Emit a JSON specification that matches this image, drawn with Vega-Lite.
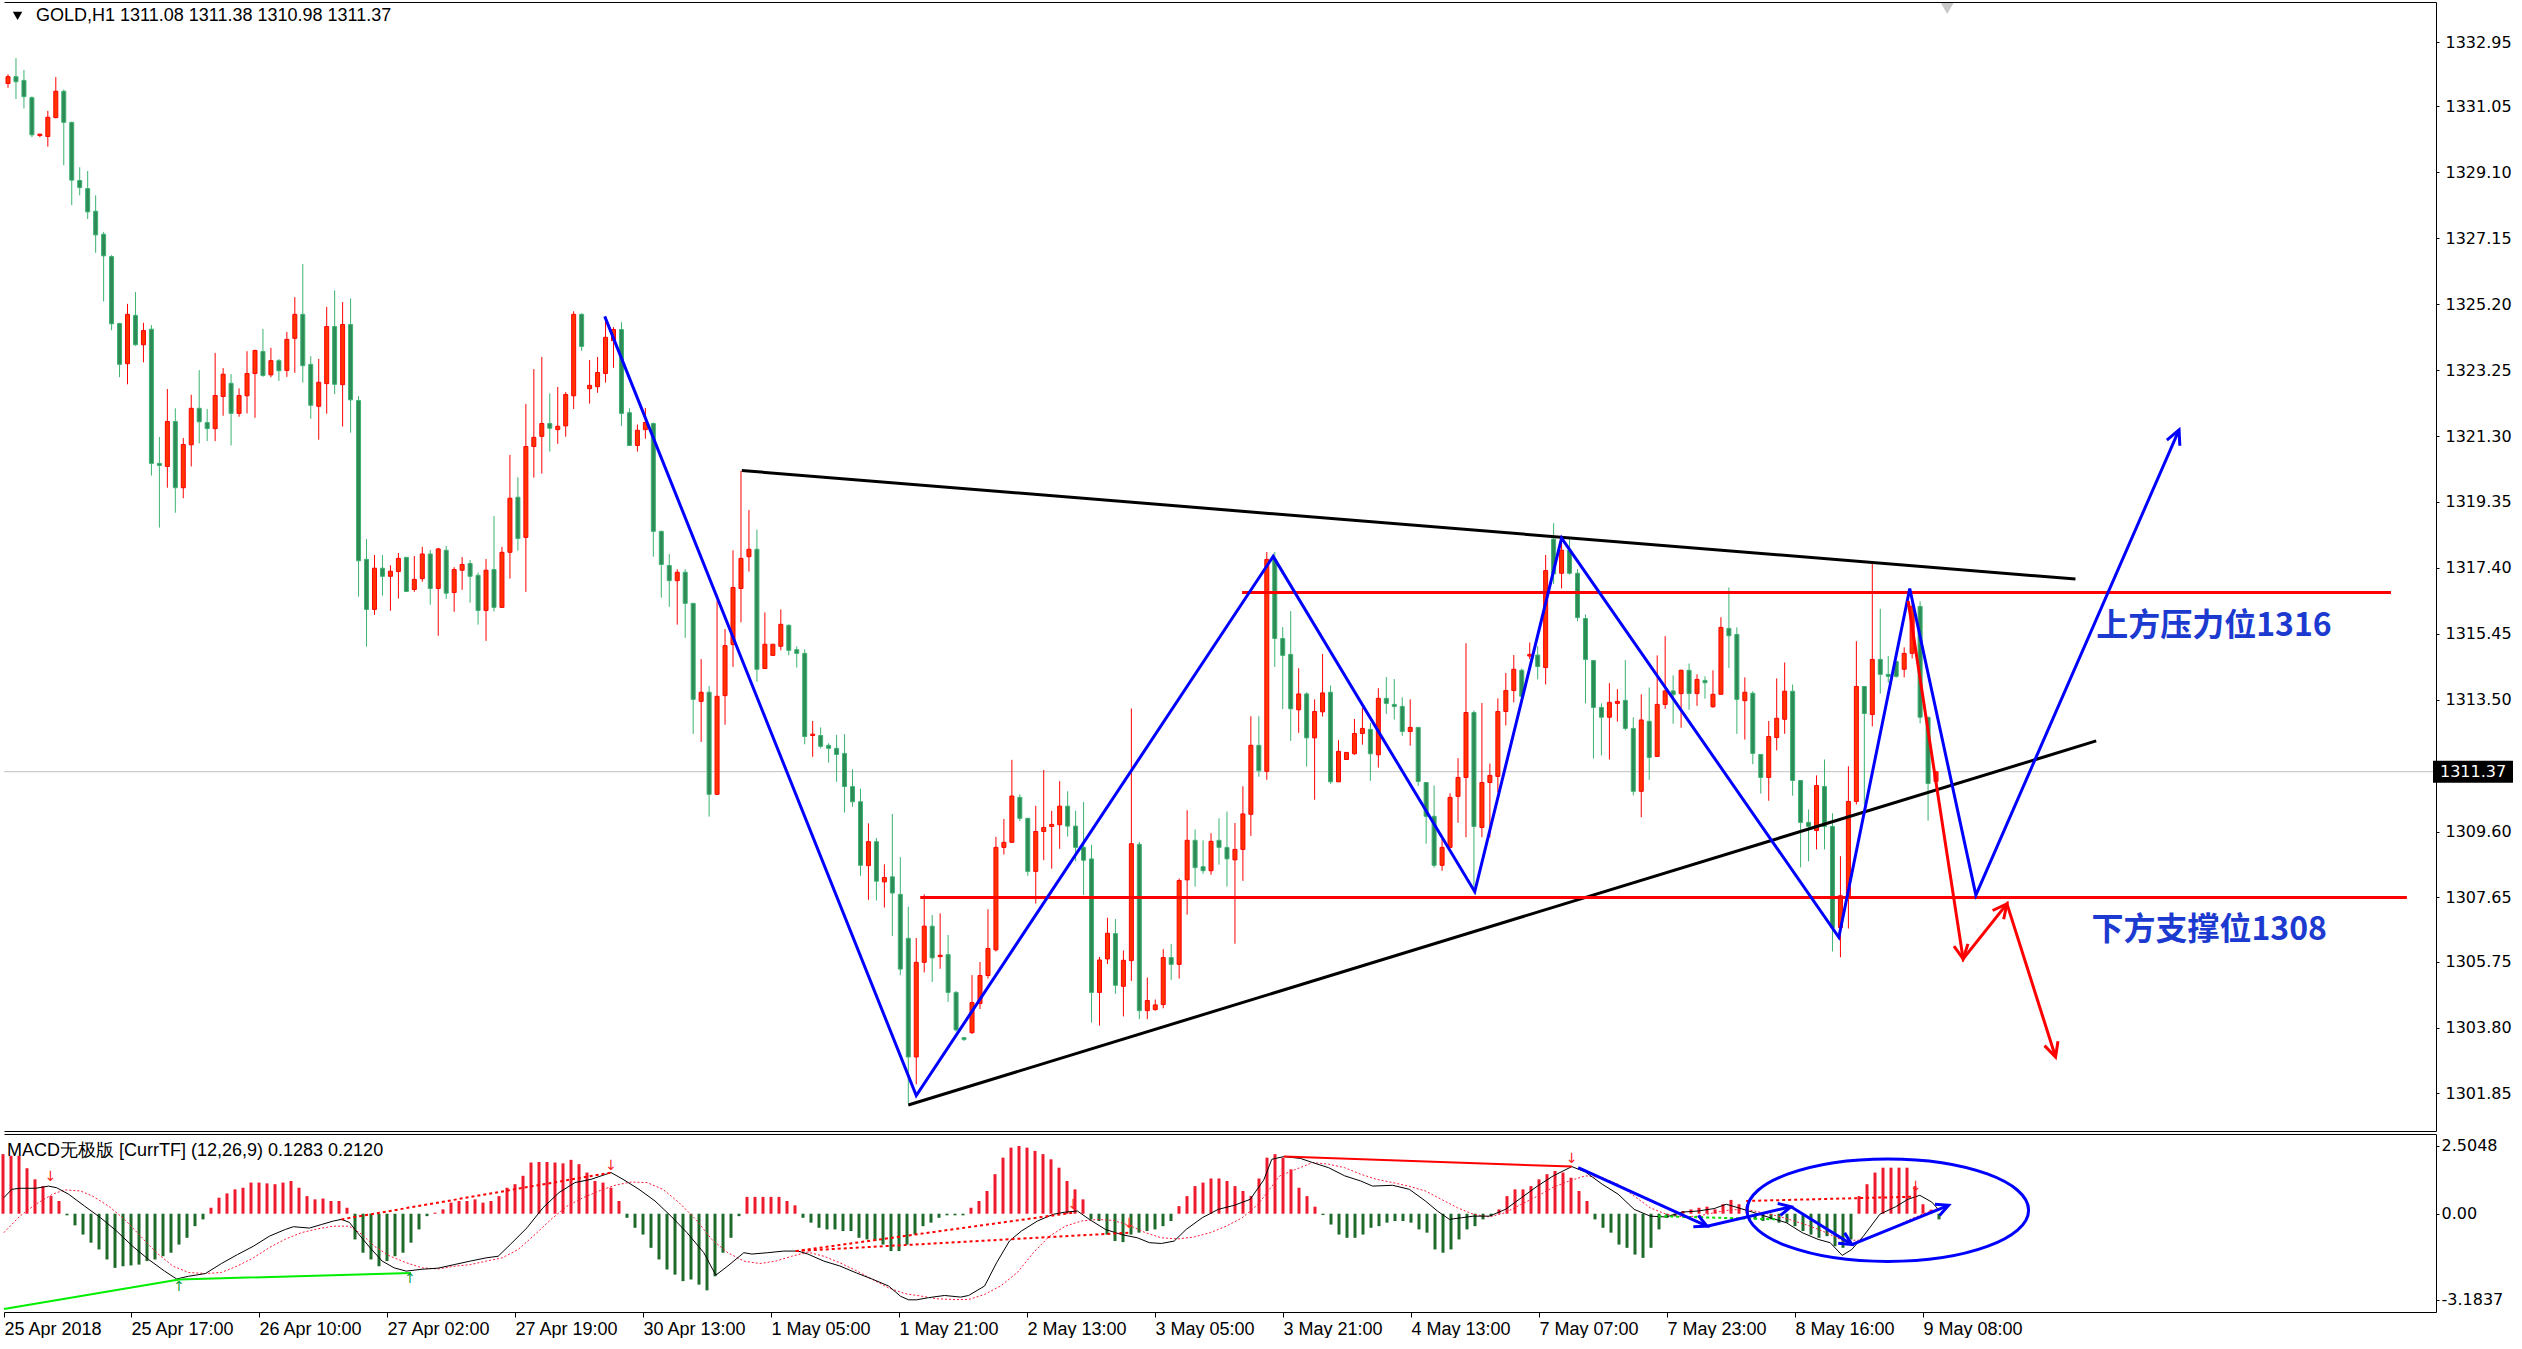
{
"$schema": "https://vega.github.io/schema/vega-lite/v6.json",
"background": "white",
"padding": {"left": 0, "top": 2, "right": 0, "bottom": 0},
"spacing": 3,
"config": {"view": {"stroke": null}, "axis": {"grid": false}, "font": "Liberation Sans"},
"datasets": {
"candles": [
{"i":0,"o":1331.73,"h":1332.0,"l":1331.6,"c":1331.93},
{"i":1,"o":1331.93,"h":1332.48,"l":1331.27,"c":1331.78},
{"i":2,"o":1331.82,"h":1332.13,"l":1330.99,"c":1331.34},
{"i":3,"o":1331.31,"h":1331.35,"l":1330.14,"c":1330.21},
{"i":4,"o":1330.19,"h":1330.24,"l":1330.14,"c":1330.23},
{"i":5,"o":1330.16,"h":1330.92,"l":1329.86,"c":1330.73},
{"i":6,"o":1330.72,"h":1331.92,"l":1330.7,"c":1331.5},
{"i":7,"o":1331.5,"h":1331.55,"l":1329.31,"c":1330.58},
{"i":8,"o":1330.58,"h":1330.6,"l":1328.13,"c":1328.87},
{"i":9,"o":1328.86,"h":1329.25,"l":1328.42,"c":1328.65},
{"i":10,"o":1328.62,"h":1329.14,"l":1327.72,"c":1327.93},
{"i":11,"o":1327.95,"h":1328.42,"l":1326.72,"c":1327.25},
{"i":12,"o":1327.27,"h":1327.34,"l":1325.28,"c":1326.63},
{"i":13,"o":1326.61,"h":1326.65,"l":1324.43,"c":1324.62},
{"i":14,"o":1324.63,"h":1324.65,"l":1323.04,"c":1323.42},
{"i":15,"o":1323.44,"h":1325.21,"l":1322.83,"c":1324.9},
{"i":16,"o":1324.87,"h":1325.56,"l":1323.97,"c":1324.0},
{"i":17,"o":1324.0,"h":1324.65,"l":1323.48,"c":1324.42},
{"i":18,"o":1324.46,"h":1324.58,"l":1320.13,"c":1320.49},
{"i":19,"o":1320.49,"h":1321.27,"l":1318.59,"c":1320.43},
{"i":20,"o":1320.4,"h":1322.69,"l":1319.77,"c":1321.73},
{"i":21,"o":1321.73,"h":1322.12,"l":1319.03,"c":1319.77},
{"i":22,"o":1319.77,"h":1321.24,"l":1319.46,"c":1321.05},
{"i":23,"o":1321.04,"h":1322.52,"l":1320.4,"c":1322.12},
{"i":24,"o":1322.12,"h":1323.25,"l":1321.08,"c":1321.72},
{"i":25,"o":1321.7,"h":1322.1,"l":1321.15,"c":1321.52},
{"i":26,"o":1321.52,"h":1323.76,"l":1321.15,"c":1322.5},
{"i":27,"o":1322.47,"h":1323.31,"l":1321.9,"c":1323.13},
{"i":28,"o":1322.86,"h":1323.13,"l":1321.02,"c":1321.97},
{"i":29,"o":1321.97,"h":1322.71,"l":1321.87,"c":1322.5},
{"i":30,"o":1322.49,"h":1323.81,"l":1321.97,"c":1323.15},
{"i":31,"o":1323.15,"h":1323.86,"l":1321.84,"c":1323.83},
{"i":32,"o":1323.8,"h":1324.47,"l":1323.05,"c":1323.09},
{"i":33,"o":1323.11,"h":1323.91,"l":1323.04,"c":1323.53},
{"i":34,"o":1323.53,"h":1323.58,"l":1322.93,"c":1323.23},
{"i":35,"o":1323.24,"h":1324.38,"l":1323.05,"c":1324.16},
{"i":36,"o":1324.19,"h":1325.41,"l":1323.17,"c":1324.9},
{"i":37,"o":1324.9,"h":1326.39,"l":1322.88,"c":1323.38},
{"i":38,"o":1323.42,"h":1323.66,"l":1321.81,"c":1322.21},
{"i":39,"o":1322.18,"h":1323.58,"l":1321.19,"c":1322.89},
{"i":40,"o":1322.85,"h":1325.12,"l":1321.96,"c":1324.54},
{"i":41,"o":1324.54,"h":1325.61,"l":1322.54,"c":1322.83},
{"i":42,"o":1322.82,"h":1325.26,"l":1321.58,"c":1324.6},
{"i":43,"o":1324.6,"h":1325.37,"l":1321.4,"c":1322.37},
{"i":44,"o":1322.35,"h":1322.48,"l":1316.55,"c":1317.61},
{"i":45,"o":1317.65,"h":1318.25,"l":1315.07,"c":1316.17},
{"i":46,"o":1316.17,"h":1317.78,"l":1316.01,"c":1317.39},
{"i":47,"o":1317.39,"h":1317.78,"l":1316.58,"c":1317.15},
{"i":48,"o":1317.15,"h":1317.48,"l":1316.13,"c":1317.3},
{"i":49,"o":1317.29,"h":1317.84,"l":1316.49,"c":1317.68},
{"i":50,"o":1317.71,"h":1317.71,"l":1316.7,"c":1316.7},
{"i":51,"o":1316.76,"h":1317.75,"l":1316.69,"c":1317.06},
{"i":52,"o":1317.08,"h":1318.02,"l":1316.99,"c":1317.81},
{"i":53,"o":1317.81,"h":1317.93,"l":1316.31,"c":1316.79},
{"i":54,"o":1316.79,"h":1317.99,"l":1315.39,"c":1317.96},
{"i":55,"o":1317.92,"h":1318.05,"l":1316.48,"c":1316.65},
{"i":56,"o":1316.67,"h":1317.42,"l":1316.1,"c":1317.35},
{"i":57,"o":1317.33,"h":1317.72,"l":1316.75,"c":1317.5},
{"i":58,"o":1317.53,"h":1317.63,"l":1316.37,"c":1317.15},
{"i":59,"o":1317.18,"h":1317.26,"l":1315.72,"c":1316.14},
{"i":60,"o":1316.14,"h":1317.66,"l":1315.24,"c":1317.33},
{"i":61,"o":1317.35,"h":1318.93,"l":1316.11,"c":1316.23},
{"i":62,"o":1316.23,"h":1318.02,"l":1316.23,"c":1317.86},
{"i":63,"o":1317.86,"h":1320.74,"l":1317.08,"c":1319.46},
{"i":64,"o":1319.49,"h":1320.08,"l":1317.91,"c":1318.27},
{"i":65,"o":1318.3,"h":1322.25,"l":1316.69,"c":1320.99},
{"i":66,"o":1320.99,"h":1323.28,"l":1320.07,"c":1321.26},
{"i":67,"o":1321.29,"h":1323.64,"l":1320.19,"c":1321.67},
{"i":68,"o":1321.67,"h":1322.56,"l":1320.84,"c":1321.53},
{"i":69,"o":1321.49,"h":1322.75,"l":1321.07,"c":1321.59},
{"i":70,"o":1321.6,"h":1322.6,"l":1321.28,"c":1322.53},
{"i":71,"o":1322.49,"h":1324.99,"l":1322.1,"c":1324.9},
{"i":72,"o":1324.9,"h":1324.93,"l":1323.82,"c":1323.95},
{"i":73,"o":1322.7,"h":1323.55,"l":1322.26,"c":1322.8},
{"i":74,"o":1322.76,"h":1323.64,"l":1322.58,"c":1323.18},
{"i":75,"o":1323.15,"h":1324.7,"l":1322.88,"c":1324.22},
{"i":76,"o":1324.12,"h":1324.52,"l":1323.32,"c":1324.45},
{"i":77,"o":1324.45,"h":1324.67,"l":1321.6,"c":1321.97},
{"i":78,"o":1321.99,"h":1322.12,"l":1321.02,"c":1321.02},
{"i":79,"o":1321.02,"h":1321.64,"l":1320.84,"c":1321.47},
{"i":80,"o":1321.49,"h":1322.13,"l":1321.22,"c":1321.7},
{"i":81,"o":1321.67,"h":1321.7,"l":1317.73,"c":1318.48},
{"i":82,"o":1318.48,"h":1318.5,"l":1316.52,"c":1317.5},
{"i":83,"o":1317.47,"h":1317.81,"l":1316.25,"c":1317.02},
{"i":84,"o":1317.02,"h":1317.36,"l":1315.72,"c":1317.27},
{"i":85,"o":1317.27,"h":1317.36,"l":1315.33,"c":1316.35},
{"i":86,"o":1316.35,"h":1316.35,"l":1312.49,"c":1313.51},
{"i":87,"o":1313.45,"h":1314.7,"l":1312.25,"c":1313.72},
{"i":88,"o":1313.72,"h":1313.9,"l":1310.04,"c":1310.7},
{"i":89,"o":1310.7,"h":1316.43,"l":1310.7,"c":1313.6},
{"i":90,"o":1313.62,"h":1315.59,"l":1312.76,"c":1315.1},
{"i":91,"o":1315.13,"h":1317.92,"l":1314.47,"c":1316.82},
{"i":92,"o":1316.79,"h":1320.27,"l":1315.79,"c":1317.68},
{"i":93,"o":1317.73,"h":1319.11,"l":1317.29,"c":1317.95},
{"i":94,"o":1317.95,"h":1318.53,"l":1314.03,"c":1314.4},
{"i":95,"o":1314.42,"h":1316.08,"l":1314.42,"c":1315.14},
{"i":96,"o":1314.81,"h":1315.14,"l":1314.81,"c":1315.14},
{"i":97,"o":1315.08,"h":1316.17,"l":1314.96,"c":1315.73},
{"i":98,"o":1315.7,"h":1315.73,"l":1314.81,"c":1314.96},
{"i":99,"o":1314.98,"h":1315.08,"l":1314.45,"c":1314.87},
{"i":100,"o":1314.87,"h":1314.99,"l":1312.18,"c":1312.41},
{"i":101,"o":1312.44,"h":1312.87,"l":1311.81,"c":1312.48},
{"i":102,"o":1312.44,"h":1312.68,"l":1312.06,"c":1312.12},
{"i":103,"o":1312.15,"h":1312.21,"l":1311.64,"c":1312.06},
{"i":104,"o":1312.06,"h":1312.46,"l":1311.07,"c":1311.88},
{"i":105,"o":1311.91,"h":1312.48,"l":1310.16,"c":1310.93},
{"i":106,"o":1310.93,"h":1311.44,"l":1310.33,"c":1310.48},
{"i":107,"o":1310.48,"h":1310.87,"l":1308.29,"c":1308.6},
{"i":108,"o":1308.59,"h":1309.84,"l":1307.58,"c":1309.3},
{"i":109,"o":1309.3,"h":1309.41,"l":1307.56,"c":1308.13},
{"i":110,"o":1308.11,"h":1308.63,"l":1307.35,"c":1308.24},
{"i":111,"o":1308.26,"h":1310.12,"l":1306.51,"c":1307.78},
{"i":112,"o":1307.74,"h":1308.84,"l":1305.35,"c":1305.53},
{"i":113,"o":1306.44,"h":1307.38,"l":1301.57,"c":1302.93},
{"i":114,"o":1302.93,"h":1306.45,"l":1302.12,"c":1305.73},
{"i":115,"o":1305.73,"h":1307.74,"l":1305.43,"c":1306.8},
{"i":116,"o":1306.8,"h":1307.13,"l":1305.15,"c":1305.86},
{"i":117,"o":1305.9,"h":1307.18,"l":1305.54,"c":1305.94},
{"i":118,"o":1305.96,"h":1306.54,"l":1304.56,"c":1304.84},
{"i":119,"o":1304.84,"h":1304.88,"l":1303.68,"c":1303.73},
{"i":120,"o":1303.5,"h":1303.52,"l":1303.4,"c":1303.45},
{"i":121,"o":1303.65,"h":1305.35,"l":1303.61,"c":1304.54},
{"i":122,"o":1304.51,"h":1305.74,"l":1304.35,"c":1305.34},
{"i":123,"o":1305.34,"h":1307.3,"l":1305.25,"c":1306.14},
{"i":124,"o":1306.1,"h":1309.44,"l":1306.05,"c":1309.13},
{"i":125,"o":1309.13,"h":1309.97,"l":1308.92,"c":1309.28},
{"i":126,"o":1309.28,"h":1311.72,"l":1309.28,"c":1310.65},
{"i":127,"o":1310.61,"h":1310.7,"l":1309.91,"c":1309.99},
{"i":128,"o":1309.99,"h":1310.0,"l":1308.29,"c":1308.42},
{"i":129,"o":1308.42,"h":1310.36,"l":1307.47,"c":1309.6},
{"i":130,"o":1309.6,"h":1311.42,"l":1308.75,"c":1309.72},
{"i":131,"o":1309.75,"h":1310.21,"l":1308.5,"c":1309.81},
{"i":132,"o":1309.8,"h":1311.09,"l":1309.09,"c":1310.35},
{"i":133,"o":1310.35,"h":1310.79,"l":1309.45,"c":1309.76},
{"i":134,"o":1309.76,"h":1310.22,"l":1308.72,"c":1309.13},
{"i":135,"o":1309.13,"h":1310.47,"l":1307.72,"c":1308.75},
{"i":136,"o":1308.79,"h":1309.21,"l":1303.95,"c":1304.84},
{"i":137,"o":1304.84,"h":1305.89,"l":1303.86,"c":1305.8},
{"i":138,"o":1305.83,"h":1307.05,"l":1305.68,"c":1306.59},
{"i":139,"o":1306.58,"h":1307.01,"l":1304.8,"c":1305.05},
{"i":140,"o":1305.02,"h":1306.08,"l":1304.13,"c":1305.79},
{"i":141,"o":1305.78,"h":1313.24,"l":1305.18,"c":1309.24},
{"i":142,"o":1309.22,"h":1309.29,"l":1304.05,"c":1304.3},
{"i":143,"o":1304.3,"h":1305.28,"l":1304.05,"c":1304.6},
{"i":144,"o":1304.33,"h":1304.63,"l":1304.3,"c":1304.47},
{"i":145,"o":1304.48,"h":1306.12,"l":1304.37,"c":1305.87},
{"i":146,"o":1305.87,"h":1306.27,"l":1305.21,"c":1305.67},
{"i":147,"o":1305.67,"h":1308.21,"l":1305.25,"c":1308.15},
{"i":148,"o":1308.17,"h":1310.23,"l":1307.14,"c":1309.34},
{"i":149,"o":1309.34,"h":1309.66,"l":1307.97,"c":1308.53},
{"i":150,"o":1308.56,"h":1309.34,"l":1308.35,"c":1308.44},
{"i":151,"o":1308.44,"h":1309.55,"l":1308.32,"c":1309.31},
{"i":152,"o":1309.34,"h":1309.99,"l":1308.62,"c":1309.13},
{"i":153,"o":1309.13,"h":1310.19,"l":1307.97,"c":1308.79},
{"i":154,"o":1308.76,"h":1309.85,"l":1306.28,"c":1309.07},
{"i":155,"o":1309.07,"h":1310.94,"l":1308.14,"c":1310.12},
{"i":156,"o":1310.11,"h":1313.01,"l":1309.47,"c":1312.15},
{"i":157,"o":1312.15,"h":1313.01,"l":1311.22,"c":1311.4},
{"i":158,"o":1311.38,"h":1317.87,"l":1311.13,"c":1317.65},
{"i":159,"o":1317.65,"h":1317.87,"l":1314.47,"c":1315.31},
{"i":160,"o":1315.31,"h":1315.65,"l":1313.22,"c":1314.81},
{"i":161,"o":1314.84,"h":1316.12,"l":1312.28,"c":1313.23},
{"i":162,"o":1313.2,"h":1314.43,"l":1312.52,"c":1313.67},
{"i":163,"o":1313.67,"h":1313.72,"l":1311.52,"c":1312.37},
{"i":164,"o":1312.37,"h":1313.51,"l":1310.54,"c":1313.15},
{"i":165,"o":1313.14,"h":1314.85,"l":1313.0,"c":1313.7},
{"i":166,"o":1313.72,"h":1313.92,"l":1311.01,"c":1311.07},
{"i":167,"o":1311.07,"h":1312.3,"l":1311.07,"c":1311.97},
{"i":168,"o":1311.73,"h":1311.94,"l":1311.73,"c":1311.94},
{"i":169,"o":1311.9,"h":1312.93,"l":1311.87,"c":1312.5},
{"i":170,"o":1312.5,"h":1313.25,"l":1312.17,"c":1312.65},
{"i":171,"o":1312.62,"h":1312.81,"l":1311.1,"c":1311.9},
{"i":172,"o":1311.87,"h":1313.84,"l":1311.49,"c":1313.54},
{"i":173,"o":1313.54,"h":1314.17,"l":1313.08,"c":1313.39},
{"i":174,"o":1313.36,"h":1314.11,"l":1312.91,"c":1313.3},
{"i":175,"o":1313.3,"h":1313.57,"l":1312.43,"c":1312.56},
{"i":176,"o":1312.56,"h":1313.51,"l":1312.14,"c":1312.68},
{"i":177,"o":1312.68,"h":1312.68,"l":1310.95,"c":1311.08},
{"i":178,"o":1311.05,"h":1311.05,"l":1309.24,"c":1310.05},
{"i":179,"o":1310.05,"h":1310.96,"l":1308.53,"c":1308.6},
{"i":180,"o":1308.6,"h":1309.38,"l":1308.44,"c":1309.13},
{"i":181,"o":1309.13,"h":1310.73,"l":1309.13,"c":1310.61},
{"i":182,"o":1310.64,"h":1311.77,"l":1309.86,"c":1311.2},
{"i":183,"o":1311.2,"h":1315.17,"l":1309.43,"c":1313.12},
{"i":184,"o":1313.12,"h":1313.18,"l":1307.82,"c":1309.75},
{"i":185,"o":1309.72,"h":1313.4,"l":1309.43,"c":1311.05},
{"i":186,"o":1311.05,"h":1311.61,"l":1309.43,"c":1311.26},
{"i":187,"o":1311.23,"h":1313.54,"l":1310.76,"c":1313.15},
{"i":188,"o":1313.15,"h":1314.29,"l":1312.74,"c":1313.77},
{"i":189,"o":1313.77,"h":1314.82,"l":1313.42,"c":1314.4},
{"i":190,"o":1314.37,"h":1314.42,"l":1313.57,"c":1313.6},
{"i":191,"o":1314.79,"h":1315.19,"l":1314.7,"c":1314.84},
{"i":192,"o":1314.82,"h":1315.08,"l":1314.1,"c":1314.48},
{"i":193,"o":1314.45,"h":1317.78,"l":1313.95,"c":1317.32},
{"i":194,"o":1318.25,"h":1318.72,"l":1316.92,"c":1317.22},
{"i":195,"o":1317.24,"h":1318.15,"l":1316.79,"c":1317.92},
{"i":196,"o":1317.92,"h":1318.3,"l":1317.2,"c":1317.24},
{"i":197,"o":1317.24,"h":1317.36,"l":1315.82,"c":1315.93},
{"i":198,"o":1315.9,"h":1316.02,"l":1313.39,"c":1314.69},
{"i":199,"o":1314.66,"h":1314.66,"l":1311.76,"c":1313.27},
{"i":200,"o":1313.27,"h":1313.39,"l":1311.85,"c":1312.98},
{"i":201,"o":1312.98,"h":1313.99,"l":1311.73,"c":1313.42},
{"i":202,"o":1313.39,"h":1313.81,"l":1312.85,"c":1313.45},
{"i":203,"o":1313.48,"h":1314.67,"l":1312.59,"c":1312.65},
{"i":204,"o":1312.65,"h":1312.98,"l":1310.67,"c":1310.79},
{"i":205,"o":1310.79,"h":1313.66,"l":1310.02,"c":1312.9},
{"i":206,"o":1312.86,"h":1313.86,"l":1311.13,"c":1311.79},
{"i":207,"o":1311.82,"h":1314.81,"l":1311.82,"c":1313.36},
{"i":208,"o":1313.36,"h":1315.38,"l":1313.23,"c":1313.76},
{"i":209,"o":1313.76,"h":1314.22,"l":1312.79,"c":1313.65},
{"i":210,"o":1313.68,"h":1314.39,"l":1312.67,"c":1314.37},
{"i":211,"o":1314.37,"h":1314.57,"l":1313.2,"c":1313.68},
{"i":212,"o":1313.68,"h":1314.25,"l":1313.32,"c":1314.1},
{"i":213,"o":1314.07,"h":1314.19,"l":1313.53,"c":1314.0},
{"i":214,"o":1313.29,"h":1314.37,"l":1313.26,"c":1313.66},
{"i":215,"o":1313.66,"h":1315.94,"l":1313.66,"c":1315.64},
{"i":216,"o":1315.61,"h":1316.82,"l":1314.44,"c":1315.39},
{"i":217,"o":1315.43,"h":1315.64,"l":1312.49,"c":1313.51},
{"i":218,"o":1313.47,"h":1314.16,"l":1312.32,"c":1313.72},
{"i":219,"o":1313.69,"h":1313.75,"l":1311.59,"c":1311.91},
{"i":220,"o":1311.88,"h":1311.88,"l":1310.72,"c":1311.2},
{"i":221,"o":1311.2,"h":1312.87,"l":1310.51,"c":1312.41},
{"i":222,"o":1312.38,"h":1314.13,"l":1312.0,"c":1312.95},
{"i":223,"o":1312.92,"h":1314.6,"l":1312.49,"c":1313.75},
{"i":224,"o":1313.75,"h":1313.95,"l":1310.66,"c":1311.11},
{"i":225,"o":1311.11,"h":1311.11,"l":1308.54,"c":1309.87},
{"i":226,"o":1309.87,"h":1310.25,"l":1308.72,"c":1309.75},
{"i":227,"o":1309.63,"h":1311.26,"l":1309.07,"c":1310.96},
{"i":228,"o":1310.93,"h":1311.73,"l":1309.07,"c":1309.75},
{"i":229,"o":1309.75,"h":1310.14,"l":1306.05,"c":1306.76},
{"i":230,"o":1306.76,"h":1308.87,"l":1305.88,"c":1307.7},
{"i":231,"o":1307.7,"h":1311.53,"l":1306.73,"c":1310.49},
{"i":232,"o":1310.49,"h":1315.23,"l":1310.4,"c":1313.89},
{"i":233,"o":1313.89,"h":1313.89,"l":1310.4,"c":1313.09},
{"i":234,"o":1313.06,"h":1317.56,"l":1312.71,"c":1314.69},
{"i":235,"o":1314.69,"h":1316.19,"l":1313.68,"c":1314.25},
{"i":236,"o":1314.25,"h":1314.79,"l":1314.0,"c":1314.19},
{"i":237,"o":1314.63,"h":1314.65,"l":1314.15,"c":1314.19},
{"i":238,"o":1314.4,"h":1315.05,"l":1314.16,"c":1314.87},
{"i":239,"o":1314.87,"h":1316.56,"l":1314.72,"c":1316.26},
{"i":240,"o":1316.26,"h":1316.41,"l":1312.8,"c":1312.98},
{"i":241,"o":1312.98,"h":1312.98,"l":1309.92,"c":1311.02},
{"i":242,"o":1311.08,"h":1311.38,"l":1310.98,"c":1311.37}
],
"hist": [
{"i":0,"v":2.2},{"i":1,"v":2.14},{"i":2,"v":2.14},{"i":3,"v":1.68},{"i":4,"v":1.27},{"i":5,"v":1.02},{"i":6,"v":0.65},{"i":7,"v":0.47},
{"i":8,"v":-0.06},{"i":9,"v":-0.43},{"i":10,"v":-0.77},{"i":11,"v":-1.07},{"i":12,"v":-1.32},{"i":13,"v":-1.69},{"i":14,"v":-2.0},{"i":15,"v":-1.94},{"i":16,"v":-1.91},{"i":17,"v":-1.88},{"i":18,"v":-1.75},{"i":19,"v":-1.69},{"i":20,"v":-1.57},{"i":21,"v":-1.44},{"i":22,"v":-1.14},{"i":23,"v":-0.89},{"i":24,"v":-0.46},{"i":25,"v":-0.21},
{"i":26,"v":0.22},{"i":27,"v":0.59},{"i":28,"v":0.75},{"i":29,"v":0.9},{"i":30,"v":0.96},{"i":31,"v":1.15},{"i":32,"v":1.15},{"i":33,"v":1.12},{"i":34,"v":1.09},{"i":35,"v":1.15},{"i":36,"v":1.21},{"i":37,"v":0.96},{"i":38,"v":0.65},{"i":39,"v":0.53},{"i":40,"v":0.56},{"i":41,"v":0.47},{"i":42,"v":0.47},{"i":43,"v":0.22},
{"i":44,"v":-0.95},{"i":45,"v":-1.44},{"i":46,"v":-1.69},{"i":47,"v":-1.94},{"i":48,"v":-1.75},{"i":49,"v":-1.57},{"i":50,"v":-1.44},{"i":51,"v":-1.07},{"i":52,"v":-0.58},{"i":53,"v":-0.09},
{"i":54,"v":0.04},{"i":55,"v":0.16},{"i":56,"v":0.41},{"i":57,"v":0.47},{"i":58,"v":0.47},{"i":59,"v":0.53},{"i":60,"v":0.41},{"i":61,"v":0.47},{"i":62,"v":0.65},{"i":63,"v":0.96},{"i":64,"v":1.09},{"i":65,"v":1.4},{"i":66,"v":1.89},{"i":67,"v":1.91},{"i":68,"v":1.91},{"i":69,"v":1.89},{"i":70,"v":1.86},{"i":71,"v":1.99},{"i":72,"v":1.83},{"i":73,"v":1.52},{"i":74,"v":1.21},{"i":75,"v":1.15},{"i":76,"v":0.96},{"i":77,"v":0.47},
{"i":78,"v":-0.15},{"i":79,"v":-0.52},{"i":80,"v":-0.77},{"i":81,"v":-1.26},{"i":82,"v":-1.69},{"i":83,"v":-2.06},{"i":84,"v":-2.25},{"i":85,"v":-2.49},{"i":86,"v":-2.43},{"i":87,"v":-2.62},{"i":88,"v":-2.83},{"i":89,"v":-2.31},{"i":90,"v":-1.44},{"i":91,"v":-0.89},{"i":92,"v":-0.09},
{"i":93,"v":0.62},{"i":94,"v":0.62},{"i":95,"v":0.62},{"i":96,"v":0.62},{"i":97,"v":0.62},{"i":98,"v":0.47},{"i":99,"v":0.31},
{"i":100,"v":-0.15},{"i":101,"v":-0.33},{"i":102,"v":-0.52},{"i":103,"v":-0.58},{"i":104,"v":-0.58},{"i":105,"v":-0.64},{"i":106,"v":-0.64},{"i":107,"v":-0.89},{"i":108,"v":-0.95},{"i":109,"v":-1.01},{"i":110,"v":-1.14},{"i":111,"v":-1.38},{"i":112,"v":-1.38},{"i":113,"v":-1.14},{"i":114,"v":-0.77},{"i":115,"v":-0.46},{"i":116,"v":-0.33},{"i":117,"v":-0.15},{"i":118,"v":-0.06},{"i":119,"v":-0.06},{"i":120,"v":-0.06},
{"i":121,"v":0.22},{"i":122,"v":0.47},{"i":123,"v":0.84},{"i":124,"v":1.46},{"i":125,"v":2.07},{"i":126,"v":2.44},{"i":127,"v":2.5},{"i":128,"v":2.44},{"i":129,"v":2.32},{"i":130,"v":2.2},{"i":131,"v":2.01},{"i":132,"v":1.7},{"i":133,"v":1.21},{"i":134,"v":0.9},{"i":135,"v":0.53},
{"i":136,"v":-0.21},{"i":137,"v":-0.27},{"i":138,"v":-0.77},{"i":139,"v":-1.01},{"i":140,"v":-1.05},{"i":141,"v":-0.77},{"i":142,"v":-0.7},{"i":143,"v":-0.64},{"i":144,"v":-0.58},{"i":145,"v":-0.46},{"i":146,"v":-0.27},
{"i":147,"v":0.28},{"i":148,"v":0.65},{"i":149,"v":1.02},{"i":150,"v":1.15},{"i":151,"v":1.3},{"i":152,"v":1.3},{"i":153,"v":1.21},{"i":154,"v":1.02},{"i":155,"v":0.84},{"i":156,"v":0.65},{"i":157,"v":1.3},
{"i":158,"v":2.07},{"i":159,"v":2.2},{"i":160,"v":2.07},{"i":161,"v":1.64},{"i":162,"v":0.96},{"i":163,"v":0.65},{"i":164,"v":0.26},{"i":165,"v":-0.05},
{"i":166,"v":-0.4},{"i":167,"v":-0.77},{"i":168,"v":-0.89},{"i":169,"v":-0.89},{"i":170,"v":-0.77},{"i":171,"v":-0.52},{"i":172,"v":-0.46},{"i":173,"v":-0.33},{"i":174,"v":-0.27},{"i":175,"v":-0.27},{"i":176,"v":-0.33},{"i":177,"v":-0.58},{"i":178,"v":-0.7},{"i":179,"v":-1.32},{"i":180,"v":-1.44},{"i":181,"v":-1.32},{"i":182,"v":-0.95},{"i":183,"v":-0.58},{"i":184,"v":-0.46},{"i":185,"v":-0.21},{"i":186,"v":-0.09},
{"i":187,"v":0.16},{"i":188,"v":0.65},{"i":189,"v":0.9},{"i":190,"v":0.9},{"i":191,"v":1.02},{"i":192,"v":1.27},{"i":193,"v":1.46},{"i":194,"v":1.58},{"i":195,"v":1.52},{"i":196,"v":1.33},{"i":197,"v":0.84},{"i":198,"v":0.47},
{"i":199,"v":-0.21},{"i":200,"v":-0.52},{"i":201,"v":-0.7},{"i":202,"v":-1.14},{"i":203,"v":-1.26},{"i":204,"v":-1.51},{"i":205,"v":-1.63},{"i":206,"v":-1.26},{"i":207,"v":-0.58},{"i":208,"v":-0.15},{"i":209,"v":-0.1},
{"i":210,"v":0.1},{"i":211,"v":0.16},{"i":212,"v":0.22},{"i":213,"v":0.26},{"i":214,"v":0.16},{"i":215,"v":0.35},{"i":216,"v":0.51},{"i":217,"v":0.35},{"i":218,"v":0.26},
{"i":219,"v":-0.21},{"i":220,"v":-0.27},{"i":221,"v":-0.21},{"i":222,"v":-0.33},{"i":223,"v":-0.33},{"i":224,"v":-0.46},{"i":225,"v":-0.64},{"i":226,"v":-0.77},{"i":227,"v":-0.89},{"i":228,"v":-0.83},{"i":229,"v":-1.2},{"i":230,"v":-1.26},{"i":231,"v":-0.95},
{"i":232,"v":0.65},{"i":233,"v":1.09},{"i":234,"v":1.52},{"i":235,"v":1.7},{"i":236,"v":1.7},{"i":237,"v":1.7},{"i":238,"v":1.7},{"i":239,"v":1.02},{"i":240,"v":0.35},{"i":241,"v":0.15},{"i":242,"v":-0.21}
],
"dif": [
{"i":0.1,"v":0.59},{"i":1.1,"v":0.9},{"i":2.1,"v":0.94},{"i":4.1,"v":0.94},{"i":5.7,"v":1.02},{"i":6.7,"v":0.96},{"i":8.2,"v":0.72},{"i":10.2,"v":0.28},{"i":12.2,"v":-0.15},{"i":14.2,"v":-0.64},{"i":16.2,"v":-1.2},{"i":18.2,"v":-1.69},{"i":20.2,"v":-2.12},{"i":21.7,"v":-2.41},{"i":23.2,"v":-2.31},{"i":25.3,"v":-2.21},{"i":27.3,"v":-1.84},{"i":29.3,"v":-1.51},{"i":31.3,"v":-1.2},{"i":33.3,"v":-0.83},{"i":35.3,"v":-0.58},{"i":36.3,"v":-0.48},{"i":38.3,"v":-0.53},{"i":39.8,"v":-0.4},{"i":41.3,"v":-0.27},{"i":42.3,"v":-0.21},{"i":43.3,"v":-0.32},{"i":44.3,"v":-0.7},{"i":45.9,"v":-1.26},{"i":47.4,"v":-1.75},{"i":48.9,"v":-2.0},{"i":50.4,"v":-2.12},{"i":52.4,"v":-2.05},{"i":54.4,"v":-2.01},{"i":56.4,"v":-1.88},{"i":58.4,"v":-1.75},{"i":60.4,"v":-1.63},{"i":61.9,"v":-1.57},{"i":63.4,"v":-1.14},{"i":65.5,"v":-0.52},{"i":67.5,"v":0.22},{"i":69.5,"v":0.78},{"i":71.5,"v":1.15},{"i":73.5,"v":1.27},{"i":76.0,"v":1.52},{"i":77.5,"v":1.27},{"i":79.5,"v":0.9},{"i":81.5,"v":0.47},{"i":83.5,"v":-0.09},{"i":85.5,"v":-0.7},{"i":87.6,"v":-1.44},{"i":89.1,"v":-2.27},{"i":90.6,"v":-1.93},{"i":92.6,"v":-1.44},{"i":93.6,"v":-1.49},{"i":95.6,"v":-1.44},{"i":97.6,"v":-1.38},{"i":99.4,"v":-1.38},{"i":100.6,"v":-1.49},{"i":102.6,"v":-1.75},{"i":104.6,"v":-1.93},{"i":106.7,"v":-2.19},{"i":108.7,"v":-2.42},{"i":110.7,"v":-2.67},{"i":112.2,"v":-3.05},{"i":113.2,"v":-3.18},{"i":114.2,"v":-3.18},{"i":115.7,"v":-3.1},{"i":117.7,"v":-3.02},{"i":119.7,"v":-3.08},{"i":120.7,"v":-3.02},{"i":122.7,"v":-2.67},{"i":124.2,"v":-1.81},{"i":125.8,"v":-1.01},{"i":127.3,"v":-0.64},{"i":129.3,"v":-0.27},{"i":131.3,"v":-0.02},{"i":132.8,"v":0.06},{"i":134.3,"v":0.1},{"i":135.8,"v":-0.21},{"i":137.8,"v":-0.58},{"i":139.8,"v":-0.77},{"i":141.8,"v":-0.89},{"i":143.3,"v":-1.07},{"i":144.8,"v":-1.1},{"i":146.4,"v":-1.01},{"i":147.9,"v":-0.58},{"i":149.9,"v":-0.15},{"i":151.9,"v":0.16},{"i":153.9,"v":0.31},{"i":155.9,"v":0.53},{"i":157.6,"v":1.25},{"i":158.6,"v":2.01},{"i":160.1,"v":2.11},{"i":162.2,"v":2.04},{"i":163.7,"v":1.89},{"i":165.7,"v":1.7},{"i":167.7,"v":1.4},{"i":169.7,"v":1.21},{"i":171.2,"v":1.02},{"i":173.7,"v":1.05},{"i":175.8,"v":0.9},{"i":177.8,"v":0.47},{"i":179.3,"v":0.1},{"i":180.8,"v":-0.21},{"i":182.3,"v":-0.15},{"i":183.8,"v":-0.09},{"i":185.8,"v":-0.09},{"i":187.8,"v":0.16},{"i":189.8,"v":0.59},{"i":191.8,"v":1.02},{"i":193.8,"v":1.4},{"i":196.1,"v":1.74},{"i":197.8,"v":1.54},{"i":199.9,"v":1.09},{"i":201.9,"v":0.72},{"i":203.9,"v":0.16},{"i":205.9,"v":-0.09},{"i":207.9,"v":-0.12},{"i":209.9,"v":0.06},{"i":211.9,"v":0.1},{"i":213.9,"v":0.19},{"i":215.4,"v":0.35},{"i":216.9,"v":0.22},{"i":218.9,"v":0.04},{"i":220.9,"v":-0.15},{"i":222.9,"v":-0.33},{"i":224.9,"v":-0.7},{"i":226.9,"v":-0.95},{"i":228.4,"v":-1.07},{"i":229.9,"v":-1.54},{"i":231.1,"v":-1.32},{"i":232.6,"v":-0.81},{"i":234.6,"v":-0.02},{"i":236.6,"v":0.26},{"i":238.1,"v":0.53},{"i":239.6,"v":0.68},{"i":241.1,"v":0.43},{"i":242,"v":0.13}
],
"dea": [
{"i":0.1,"v":-0.7},{"i":2.1,"v":-0.09},{"i":4.1,"v":0.35},{"i":6.2,"v":0.72},{"i":7.7,"v":0.88},{"i":9.7,"v":0.84},{"i":11.2,"v":0.65},{"i":13.2,"v":0.28},{"i":15.2,"v":-0.21},{"i":17.2,"v":-0.83},{"i":19.2,"v":-1.44},{"i":21.2,"v":-1.93},{"i":23.2,"v":-2.17},{"i":25.3,"v":-2.21},{"i":27.3,"v":-2.17},{"i":29.3,"v":-1.93},{"i":31.3,"v":-1.63},{"i":33.3,"v":-1.25},{"i":35.3,"v":-0.94},{"i":37.3,"v":-0.7},{"i":39.3,"v":-0.56},{"i":41.3,"v":-0.46},{"i":43.3,"v":-0.46},{"i":44.9,"v":-0.77},{"i":46.4,"v":-1.2},{"i":48.4,"v":-1.57},{"i":50.4,"v":-1.81},{"i":52.4,"v":-2.0},{"i":54.4,"v":-2.04},{"i":56.4,"v":-1.94},{"i":58.4,"v":-1.88},{"i":60.4,"v":-1.75},{"i":62.4,"v":-1.63},{"i":64.4,"v":-1.32},{"i":66.5,"v":-0.77},{"i":68.5,"v":-0.21},{"i":70.5,"v":0.28},{"i":72.5,"v":0.59},{"i":74.5,"v":0.84},{"i":76.5,"v":1.05},{"i":78.5,"v":1.17},{"i":80.5,"v":1.15},{"i":82.5,"v":0.9},{"i":84.5,"v":0.41},{"i":86.6,"v":-0.21},{"i":88.6,"v":-0.95},{"i":90.6,"v":-1.44},{"i":92.6,"v":-1.75},{"i":94.6,"v":-1.84},{"i":96.6,"v":-1.75},{"i":98.6,"v":-1.57},{"i":100.6,"v":-1.42},{"i":102.6,"v":-1.57},{"i":104.6,"v":-1.81},{"i":106.7,"v":-2.11},{"i":108.7,"v":-2.43},{"i":110.7,"v":-2.74},{"i":112.7,"v":-2.95},{"i":114.7,"v":-3.04},{"i":116.7,"v":-3.14},{"i":118.7,"v":-3.17},{"i":120.7,"v":-3.17},{"i":122.7,"v":-2.98},{"i":124.7,"v":-2.67},{"i":126.8,"v":-2.17},{"i":128.8,"v":-1.44},{"i":130.8,"v":-0.83},{"i":132.8,"v":-0.46},{"i":134.8,"v":-0.27},{"i":136.8,"v":-0.21},{"i":138.8,"v":-0.25},{"i":140.8,"v":-0.43},{"i":142.8,"v":-0.7},{"i":144.8,"v":-0.89},{"i":146.9,"v":-0.93},{"i":148.9,"v":-0.86},{"i":150.9,"v":-0.7},{"i":152.9,"v":-0.46},{"i":154.9,"v":-0.15},{"i":156.9,"v":0.35},{"i":159.6,"v":1.4},{"i":161.7,"v":1.65},{"i":163.7,"v":1.89},{"i":165.7,"v":1.83},{"i":167.7,"v":1.7},{"i":169.7,"v":1.46},{"i":171.7,"v":1.27},{"i":173.7,"v":1.15},{"i":175.7,"v":1.02},{"i":177.8,"v":0.84},{"i":179.8,"v":0.53},{"i":181.8,"v":0.22},{"i":183.8,"v":-0.02},{"i":185.8,"v":-0.12},{"i":187.8,"v":0.04},{"i":189.8,"v":0.35},{"i":191.8,"v":0.65},{"i":193.8,"v":0.98},{"i":195.8,"v":1.21},{"i":197.8,"v":1.4},{"i":199.9,"v":1.33},{"i":201.9,"v":1.09},{"i":203.9,"v":0.65},{"i":205.9,"v":0.22},{"i":207.9,"v":-0.02},{"i":209.9,"v":-0.11},{"i":211.9,"v":-0.09},{"i":213.9,"v":0.04},{"i":215.9,"v":0.14},{"i":217.9,"v":0.16},{"i":219.9,"v":0.04},{"i":221.9,"v":-0.09},{"i":223.9,"v":-0.27},{"i":225.9,"v":-0.46},{"i":227.9,"v":-0.7},{"i":229.9,"v":-0.98},{"i":231.9,"v":-0.98},{"i":233.9,"v":-0.83},{"i":235.9,"v":-0.58},{"i":237.9,"v":-0.27},{"i":239.9,"v":-0.02},{"i":242,"v":0.21}
],
"ann": [
{"id":"top","i":92.1,"p":1320.28},{"id":"top","i":259.5,"p":1317.07},
{"id":"bot","i":113.0,"p":1301.51},{"id":"bot","i":262.1,"p":1312.28},
{"id":"res","i":154.9,"p":1316.67},{"id":"res","i":299.1,"p":1316.67},
{"id":"sup","i":114.5,"p":1307.65},{"id":"sup","i":301.1,"p":1307.65},
{"id":"blue","i":74.9,"p":1324.84},{"id":"blue","i":114.0,"p":1301.79},{"id":"blue","i":158.8,"p":1317.74},{"id":"blue","i":184.1,"p":1307.82},{"id":"blue","i":195.0,"p":1318.28},{"id":"blue","i":229.8,"p":1306.47},{"id":"blue","i":238.7,"p":1316.79},{"id":"blue","i":247.0,"p":1307.72},{"id":"blue","i":272.5,"p":1321.48},
{"id":"red","i":238.5,"p":1316.42},{"id":"red","i":245.4,"p":1305.83},{"id":"red","i":250.9,"p":1307.46},{"id":"red","i":257.0,"p":1302.93}
],
"notes": [
{"t":"上方压力位1316","i":262.1,"p":1315.68},
{"t":"下方支撑位1308","i":261.5,"p":1306.7}
],
"mann": [
{"id":"g1","i":0.125,"v":-3.52},{"id":"g1","i":22,"v":-2.43},{"id":"g1","i":51,"v":-2.19},
{"id":"d1","i":42.3,"v":-0.21},{"id":"d1","i":76,"v":1.52},
{"id":"d2","i":99.1,"v":-1.38},{"id":"d2","i":133.8,"v":0.04},
{"id":"d3","i":99.1,"v":-1.38},{"id":"d3","i":140.8,"v":-0.7},
{"id":"d5","i":217.9,"v":0.47},{"id":"d5","i":239.1,"v":0.63},
{"id":"r1","i":160.1,"v":2.11},{"id":"r1","i":196.1,"v":1.74},
{"id":"gd","i":206.9,"v":-0.09},{"id":"gd","i":221.9,"v":-0.21},
{"id":"b1","i":196.9,"v":1.7},{"id":"b1","i":213.0,"v":-0.46},
{"id":"b2","i":213.0,"v":-0.46},{"id":"b2","i":223.5,"v":0.26},
{"id":"b3","i":223.5,"v":0.26},{"id":"b3","i":231.1,"v":-1.14},
{"id":"b4","i":231.1,"v":-1.14},{"id":"b4","i":243.2,"v":0.31}
],
"sig": [
{"t":"↓","i":5.95,"v":1.09},{"t":"↓","i":76,"v":1.52},{"t":"↓","i":133.8,"v":0.06},{"t":"↓","i":140.8,"v":-0.64},{"t":"↓","i":196.1,"v":1.77},{"t":"↓","i":239.1,"v":0.72},
{"t":"↑","i":22,"v":-2.43},{"t":"↑","i":50.9,"v":-2.17}
],
"ring": [{"i":235.6,"v":0.13}],
"one": [{}]
},
"vconcat": [
{
"width": 2432, "height": 1129,
"resolve": {"axis": {"x": "independent", "y": "independent"}},
"layer": [
{"data": {"name": "candles"}, "transform": [{"filter": "datum.i == 242"}],
 "mark": {"type": "rule", "color": "#c0c0c0", "strokeWidth": 1},
 "encoding": {"y": {"field": "c", "type": "quantitative", "scale": {"domain": [1300.74, 1334.14], "zero": false, "nice": false}, "axis": null}}},
{"data": {"name": "candles"},
 "mark": {"type": "rule", "strokeWidth": 1},
 "encoding": {
  "x": {"field": "i", "type": "quantitative", "scale": {"domain": [0.125, 304.125], "zero": false, "nice": false},
        "axis": {"orient": "bottom", "labels": false, "ticks": false, "domain": true, "domainColor": "#000", "domainWidth": 1, "title": null, "grid": false}},
  "y": {"field": "l", "type": "quantitative", "scale": {"domain": [1300.74, 1334.14], "zero": false, "nice": false},
        "axis": {"orient": "right", "values": [1332.95,1331.05,1329.10,1327.15,1325.20,1323.25,1321.30,1319.35,1317.40,1315.45,1313.50,1309.60,1307.65,1305.75,1303.80,1301.85],
                 "format": ".2f", "tickSize": 3, "tickColor": "#000", "labelPadding": 6, "labelFont": "DejaVu Sans", "labelFontSize": 16, "labelColor": "#000",
                 "domain": true, "domainColor": "#000", "title": null, "grid": false, "labelOverlap": false, "labelBound": false}},
  "y2": {"field": "h"},
  "color": {"condition": {"test": "datum.c >= datum.o", "value": "#ff0000"}, "value": "#3cb371"}}},
{"data": {"name": "candles"},
 "mark": {"type": "bar", "width": 4, "strokeWidth": 1},
 "encoding": {
  "x": {"field": "i", "type": "quantitative", "axis": null},
  "y": {"field": "o", "type": "quantitative", "axis": null},
  "y2": {"field": "c"},
  "fill": {"condition": {"test": "datum.c >= datum.o", "value": "#ff3300"}, "value": "#2e8b57"},
  "stroke": {"condition": {"test": "datum.c >= datum.o", "value": "#ff0000"}, "value": "#3cb371"}}},
{"data": {"name": "ann"}, "transform": [{"filter": "datum.id == 'top' || datum.id == 'bot'"}],
 "mark": {"type": "line", "color": "#000000", "strokeWidth": 3},
 "encoding": {"x": {"field": "i", "type": "quantitative", "axis": null}, "y": {"field": "p", "type": "quantitative", "axis": null}, "detail": {"field": "id"}}},
{"data": {"name": "ann"}, "transform": [{"filter": "datum.id == 'res' || datum.id == 'sup'"}],
 "mark": {"type": "line", "color": "#ff0000", "strokeWidth": 3},
 "encoding": {"x": {"field": "i", "type": "quantitative", "axis": null}, "y": {"field": "p", "type": "quantitative", "axis": null}, "detail": {"field": "id"}}},
{"data": {"name": "ann"}, "transform": [{"filter": "datum.id == 'blue'"}],
 "mark": {"type": "line", "color": "#0000ff", "strokeWidth": 3},
 "encoding": {"x": {"field": "i", "type": "quantitative", "axis": null}, "y": {"field": "p", "type": "quantitative", "axis": null}}},
{"data": {"name": "ann"}, "transform": [{"filter": "datum.id == 'red'"}],
 "mark": {"type": "line", "color": "#ff0000", "strokeWidth": 3},
 "encoding": {"x": {"field": "i", "type": "quantitative", "axis": null}, "y": {"field": "p", "type": "quantitative", "axis": null}}},
{"data": {"name": "ann"}, "transform": [{"filter": "datum.id == 'blue' && datum.i == 272.5"}],
 "mark": {"type": "point", "shape": "M-1,2L0,0L1,2", "filled": false, "color": "#0000ff", "strokeWidth": 3, "size": 200, "angle": 23.7, "opacity": 1},
 "encoding": {"x": {"field": "i", "type": "quantitative", "axis": null}, "y": {"field": "p", "type": "quantitative", "axis": null}}},
{"data": {"name": "ann"}, "transform": [{"filter": "datum.id == 'red' && datum.i == 245.4"}],
 "mark": {"type": "point", "shape": "M-1,2L0,0L1,2", "filled": false, "color": "#ff0000", "strokeWidth": 3, "size": 200, "angle": 171.2, "opacity": 1},
 "encoding": {"x": {"field": "i", "type": "quantitative", "axis": null}, "y": {"field": "p", "type": "quantitative", "axis": null}}},
{"data": {"name": "ann"}, "transform": [{"filter": "datum.id == 'red' && datum.i == 250.9"}],
 "mark": {"type": "point", "shape": "M-1,2L0,0L1,2", "filled": false, "color": "#ff0000", "strokeWidth": 3, "size": 200, "angle": 38.6, "opacity": 1},
 "encoding": {"x": {"field": "i", "type": "quantitative", "axis": null}, "y": {"field": "p", "type": "quantitative", "axis": null}}},
{"data": {"name": "ann"}, "transform": [{"filter": "datum.id == 'red' && datum.i == 257.0"}],
 "mark": {"type": "point", "shape": "M-1,2L0,0L1,2", "filled": false, "color": "#ff0000", "strokeWidth": 3, "size": 200, "angle": 162.3, "opacity": 1},
 "encoding": {"x": {"field": "i", "type": "quantitative", "axis": null}, "y": {"field": "p", "type": "quantitative", "axis": null}}},
{"data": {"name": "notes"},
 "mark": {"type": "text", "align": "left", "baseline": "middle", "font": "Noto Sans CJK SC", "fontSize": 32, "fontWeight": "bold", "color": "#1c3ad0"},
 "encoding": {"x": {"field": "i", "type": "quantitative", "axis": null}, "y": {"field": "p", "type": "quantitative", "axis": null}, "text": {"field": "t"}}},
{"data": {"name": "one"},
 "mark": {"type": "text", "align": "left", "baseline": "middle", "dx": 27, "fontSize": 18, "color": "#000"},
 "encoding": {"x": {"datum": 0.125, "type": "quantitative", "axis": {"orient": "top", "labels": false, "ticks": false, "domain": true, "domainColor": "#000", "title": null, "grid": false}},
  "y": {"datum": 1333.73, "type": "quantitative", "axis": null},
  "text": {"value": "GOLD,H1  1311.08 1311.38 1310.98 1311.37"}}},
{"data": {"name": "one"},
 "mark": {"type": "point", "shape": "triangle-down", "filled": true, "color": "#000", "size": 90, "opacity": 1},
 "encoding": {"x": {"datum": 1.2, "type": "quantitative", "axis": null}, "y": {"datum": 1333.73, "type": "quantitative", "axis": null}}},
{"data": {"name": "one"},
 "mark": {"type": "point", "shape": "triangle-down", "filled": true, "color": "#c8c8c8", "size": 160, "opacity": 1},
 "encoding": {"x": {"datum": 243.4, "type": "quantitative", "axis": null}, "y": {"datum": 1333.95, "type": "quantitative", "axis": null}}},
{"data": {"name": "candles"}, "transform": [{"filter": "datum.i == 242"}],
 "mark": {"type": "rect", "color": "#000", "xOffset": 2, "x2Offset": 82, "yOffset": -11, "y2Offset": 11},
 "encoding": {"x": {"datum": 304.125, "type": "quantitative", "axis": null}, "x2": {"datum": 304.125},
  "y": {"field": "c", "type": "quantitative", "axis": null}, "y2": {"field": "c"}}},
{"data": {"name": "candles"}, "transform": [{"filter": "datum.i == 242"}],
 "mark": {"type": "text", "align": "left", "baseline": "middle", "dx": 9, "font": "DejaVu Sans", "fontSize": 16, "color": "#ffffff"},
 "encoding": {"x": {"datum": 304.125, "type": "quantitative", "axis": null},
  "y": {"field": "c", "type": "quantitative", "axis": null}, "text": {"field": "c", "type": "quantitative", "format": ".2f"}}}
]
},
{
"width": 2432, "height": 178,
"resolve": {"axis": {"x": "independent", "y": "independent"}},
"layer": [
{"data": {"name": "hist"},
 "mark": {"type": "rule", "strokeWidth": 3},
 "encoding": {
  "x": {"field": "i", "type": "quantitative", "scale": {"domain": [0.125, 304.125], "zero": false, "nice": false},
        "axis": {"orient": "bottom", "values": [0.125,16,32,48,64,80,96,112,128,144,160,176,192,208,224,240],
                 "labelExpr": "['25 Apr 2018','25 Apr 17:00','26 Apr 10:00','27 Apr 02:00','27 Apr 19:00','30 Apr 13:00','1 May 05:00','1 May 21:00','2 May 13:00','3 May 05:00','3 May 21:00','4 May 13:00','7 May 07:00','7 May 23:00','8 May 16:00','9 May 08:00'][round(datum.value/16)]",
                 "labelAlign": "left", "labelBaseline": "top", "labelPadding": 3, "labelFont": "Liberation Sans", "labelFontSize": 18, "labelColor": "#000",
                 "tickSize": 5, "tickColor": "#000", "domain": true, "domainColor": "#000", "title": null, "grid": false, "labelOverlap": false, "labelBound": false, "labelFlush": false}},
  "y": {"field": "v", "type": "quantitative", "scale": {"domain": [-3.63, 2.944], "zero": false, "nice": false},
        "axis": {"orient": "right", "values": [2.5048, 0, -3.1837],
                 "labelExpr": "datum.value == 0 ? '0.00' : (datum.value < 0 ? '-' + format(-datum.value, '.4f') : format(datum.value, '.4f'))",
                 "tickSize": 3, "tickColor": "#000", "labelPadding": 2, "labelFont": "DejaVu Sans", "labelFontSize": 16, "labelColor": "#000",
                 "domain": true, "domainColor": "#000", "title": null, "grid": false, "labelOverlap": false, "labelBound": false}},
  "y2": {"datum": 0},
  "color": {"condition": {"test": "datum.v >= 0", "value": "#ee1a2e"}, "value": "#1f6b2c"}}},
{"data": {"name": "dea"},
 "mark": {"type": "line", "color": "#ff1a3a", "strokeWidth": 1, "strokeDash": [2, 2]},
 "encoding": {"x": {"field": "i", "type": "quantitative", "axis": null}, "y": {"field": "v", "type": "quantitative", "axis": null}}},
{"data": {"name": "dif"},
 "mark": {"type": "line", "color": "#000000", "strokeWidth": 1},
 "encoding": {"x": {"field": "i", "type": "quantitative", "axis": null}, "y": {"field": "v", "type": "quantitative", "axis": null}}},
{"data": {"name": "mann"}, "transform": [{"filter": "datum.id == 'g1'"}],
 "mark": {"type": "line", "color": "#00ee00", "strokeWidth": 2},
 "encoding": {"x": {"field": "i", "type": "quantitative", "axis": null}, "y": {"field": "v", "type": "quantitative", "axis": null}}},
{"data": {"name": "mann"}, "transform": [{"filter": "datum.id == 'd1' || datum.id == 'd2' || datum.id == 'd3' || datum.id == 'd5'"}],
 "mark": {"type": "line", "color": "#ff0000", "strokeWidth": 2, "strokeDash": [3, 3]},
 "encoding": {"x": {"field": "i", "type": "quantitative", "axis": null}, "y": {"field": "v", "type": "quantitative", "axis": null}, "detail": {"field": "id"}}},
{"data": {"name": "mann"}, "transform": [{"filter": "datum.id == 'r1'"}],
 "mark": {"type": "line", "color": "#ff0000", "strokeWidth": 2},
 "encoding": {"x": {"field": "i", "type": "quantitative", "axis": null}, "y": {"field": "v", "type": "quantitative", "axis": null}}},
{"data": {"name": "mann"}, "transform": [{"filter": "datum.id == 'gd'"}],
 "mark": {"type": "line", "color": "#00dd00", "strokeWidth": 2, "strokeDash": [3, 3]},
 "encoding": {"x": {"field": "i", "type": "quantitative", "axis": null}, "y": {"field": "v", "type": "quantitative", "axis": null}}},
{"data": {"name": "mann"}, "transform": [{"filter": "datum.id == 'b1' || datum.id == 'b2' || datum.id == 'b3' || datum.id == 'b4'"}],
 "mark": {"type": "line", "color": "#0000ff", "strokeWidth": 3},
 "encoding": {"x": {"field": "i", "type": "quantitative", "axis": null}, "y": {"field": "v", "type": "quantitative", "axis": null}, "detail": {"field": "id"}}},
{"data": {"name": "mann"}, "transform": [{"filter": "datum.id == 'b1' && datum.i == 213.0"}],
 "mark": {"type": "point", "shape": "M-1,2L0,0L1,2", "filled": false, "color": "#0000ff", "strokeWidth": 3, "size": 150, "angle": 114.4, "opacity": 1},
 "encoding": {"x": {"field": "i", "type": "quantitative", "axis": null}, "y": {"field": "v", "type": "quantitative", "axis": null}}},
{"data": {"name": "mann"}, "transform": [{"filter": "datum.id == 'b2' && datum.i == 223.5"}],
 "mark": {"type": "point", "shape": "M-1,2L0,0L1,2", "filled": false, "color": "#0000ff", "strokeWidth": 3, "size": 150, "angle": 76.9, "opacity": 1},
 "encoding": {"x": {"field": "i", "type": "quantitative", "axis": null}, "y": {"field": "v", "type": "quantitative", "axis": null}}},
{"data": {"name": "mann"}, "transform": [{"filter": "datum.id == 'b3' && datum.i == 231.1"}],
 "mark": {"type": "point", "shape": "M-1,2L0,0L1,2", "filled": false, "color": "#0000ff", "strokeWidth": 3, "size": 150, "angle": 121.9, "opacity": 1},
 "encoding": {"x": {"field": "i", "type": "quantitative", "axis": null}, "y": {"field": "v", "type": "quantitative", "axis": null}}},
{"data": {"name": "mann"}, "transform": [{"filter": "datum.id == 'b4' && datum.i == 243.2"}],
 "mark": {"type": "point", "shape": "M-1,2L0,0L1,2", "filled": false, "color": "#0000ff", "strokeWidth": 3, "size": 150, "angle": 67.9, "opacity": 1},
 "encoding": {"x": {"field": "i", "type": "quantitative", "axis": null}, "y": {"field": "v", "type": "quantitative", "axis": null}}},
{"data": {"name": "ring"},
 "mark": {"type": "point", "shape": "M-1,0A1,0.364,0,1,1,1,0A1,0.364,0,1,1,-1,0Z", "filled": false, "color": "#0000ff", "strokeWidth": 3, "size": 79300, "opacity": 1},
 "encoding": {"x": {"field": "i", "type": "quantitative", "axis": null}, "y": {"field": "v", "type": "quantitative", "axis": null}}},
{"data": {"name": "sig"}, "transform": [{"filter": "datum.t == '↓'"}],
 "mark": {"type": "text", "font": "DejaVu Sans", "fontSize": 14, "color": "#ff2020", "baseline": "bottom"},
 "encoding": {"x": {"field": "i", "type": "quantitative", "axis": null}, "y": {"field": "v", "type": "quantitative", "axis": null}, "text": {"field": "t"}}},
{"data": {"name": "sig"}, "transform": [{"filter": "datum.t == '↑'"}],
 "mark": {"type": "text", "font": "DejaVu Sans", "fontSize": 14, "color": "#10a040", "baseline": "top"},
 "encoding": {"x": {"field": "i", "type": "quantitative", "axis": null}, "y": {"field": "v", "type": "quantitative", "axis": null}, "text": {"field": "t"}}},
{"data": {"name": "one"},
 "mark": {"type": "text", "align": "left", "baseline": "middle", "dx": 3, "fontSize": 18, "color": "#000"},
 "encoding": {"x": {"datum": 0.125, "type": "quantitative", "axis": {"orient": "top", "labels": false, "ticks": false, "domain": true, "domainColor": "#000", "title": null, "grid": false}},
  "y": {"datum": 2.316, "type": "quantitative", "axis": null},
  "text": {"value": "MACD无极版 [CurrTF] (12,26,9) 0.1283 0.2120"}}}
]
}
]
}
